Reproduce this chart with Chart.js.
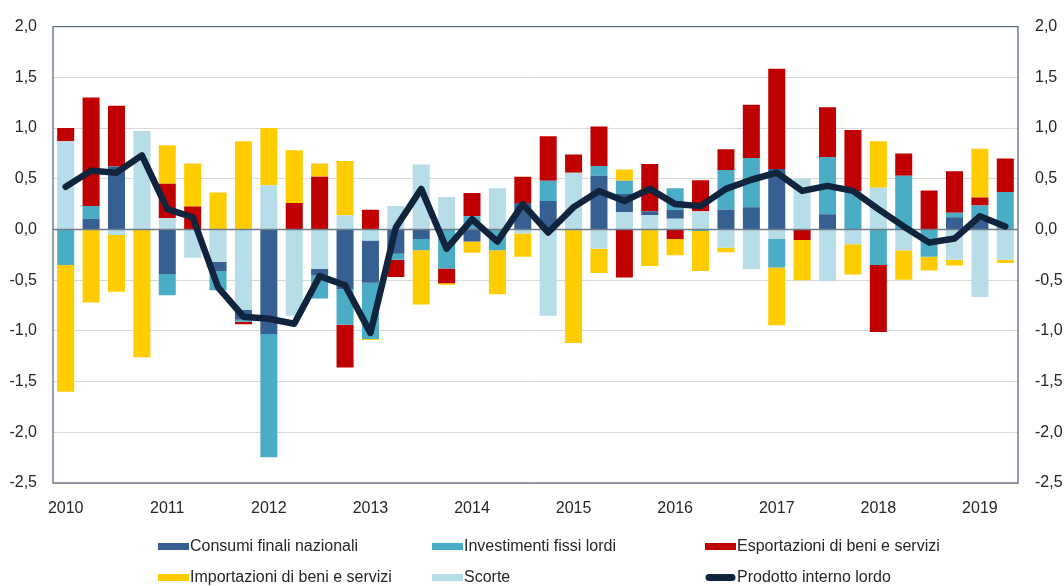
<!DOCTYPE html>
<html>
<head>
<meta charset="utf-8">
<script src="https://cdn.jsdelivr.net/npm/chart.js@4.4.1/dist/chart.umd.min.js"></script>
<style>
html,body{margin:0;padding:0;background:#ffffff;}
#wrap{width:1064px;height:586px;}
</style>
</head>
<body>
<div id="wrap"><canvas id="c" width="1064" height="586"></canvas></div>
<script>
// ---- Data (contributi alla crescita del PIL, punti percentuali) ----
const quarters = [
  '2010T1','2010T2','2010T3','2010T4','2011T1','2011T2','2011T3','2011T4',
  '2012T1','2012T2','2012T3','2012T4','2013T1','2013T2','2013T3','2013T4',
  '2014T1','2014T2','2014T3','2014T4','2015T1','2015T2','2015T3','2015T4',
  '2016T1','2016T2','2016T3','2016T4','2017T1','2017T2','2017T3','2017T4',
  '2018T1','2018T2','2018T3','2018T4','2019T1','2019T2'
];
const scorte = [0.87, 0, -0.055, 0.97, 0.11, -0.28, -0.32, -0.795, 0.435, -0.85, -0.39, 0.14, -0.11, 0.23, 0.64, 0.32, 0, 0.405, -0.04, -0.85, 0.56, -0.19, 0.17, 0.14, 0.105, 0.18, -0.18, -0.39, -0.095, 0.5, -0.51, -0.145, 0.41, -0.205, 0, -0.3, -0.665, -0.3];
const consumi = [0, 0.105, 0.62, 0, -0.44, 0, -0.09, -0.095, -1.03, 0, -0.065, -0.59, -0.415, -0.24, -0.095, 0, -0.12, 0, 0.26, 0.28, 0, 0.53, 0.18, 0.04, 0.09, 0, 0.195, 0.22, 0.595, 0, 0.15, 0, 0, 0, 0, 0.12, 0.09, 0];
const investimenti = [-0.35, 0.125, 0, 0, -0.21, 0, -0.19, -0.02, -1.215, 0, -0.225, -0.35, -0.555, -0.06, -0.11, -0.385, 0.13, -0.205, 0, 0.2, 0, 0.095, 0.13, 0, 0.21, -0.015, 0.39, 0.485, -0.28, 0, 0.565, 0.38, -0.35, 0.53, -0.27, 0.045, 0.145, 0.37];
const esportazioni = [0.13, 1.07, 0.6, 0, 0.34, 0.225, 0, -0.025, 0, 0.26, 0.52, -0.42, 0.195, -0.17, 0, -0.145, 0.23, 0, 0.26, 0.44, 0.18, 0.39, -0.475, 0.465, -0.095, 0.305, 0.205, 0.525, 0.99, -0.105, 0.49, 0.6, -0.66, 0.22, 0.385, 0.41, 0.08, 0.33];
const importazioni = [-1.25, -0.72, -0.56, -1.26, 0.38, 0.425, 0.365, 0.87, 0.565, 0.52, 0.13, 0.535, -0.01, 0, -0.535, -0.015, -0.11, -0.435, -0.23, 0, -1.12, -0.24, 0.11, -0.36, -0.16, -0.395, -0.045, 0, -0.57, -0.395, 0, -0.3, 0.46, -0.29, -0.135, -0.055, 0.48, -0.03];
const pil = [0.42, 0.58, 0.56, 0.73, 0.2, 0.12, -0.57, -0.86, -0.88, -0.93, -0.46, -0.55, -1.02, 0.02, 0.4, -0.19, 0.1, -0.12, 0.25, -0.03, 0.22, 0.38, 0.28, 0.4, 0.25, 0.23, 0.4, 0.49, 0.56, 0.38, 0.43, 0.38, 0.2, 0.03, -0.13, -0.09, 0.13, 0.03];
const yTicks = [2.0, 1.5, 1.0, 0.5, 0.0, -0.5, -1.0, -1.5, -2.0, -2.5];
const legendOrder = ['Consumi finali nazionali', 'Investimenti fissi lordi', 'Esportazioni di beni e servizi', 'Importazioni di beni e servizi', 'Scorte', 'Prodotto interno lordo'];

const FONT = "'Liberation Sans', Arial, sans-serif";
const TEXT = '#262626';

const fmt = v => Number(v).toFixed(1).replace('.', ',');

const extras = {
  id: 'extras',
  beforeDatasetsDraw(chart) {
    const {ctx, chartArea: a} = chart;
    ctx.save();
    ctx.strokeStyle = '#5b6b80';
    ctx.lineWidth = 1.3;
    ctx.strokeRect(a.left, a.top, a.right - a.left, a.bottom - a.top);
    ctx.restore();
  },
  beforeDatasetDraw(chart, args) {
    const ds = chart.data.datasets[args.index];
    if (ds.type !== 'line') return;
    const {ctx, chartArea: a} = chart;
    const y = chart.scales.y.getPixelForValue(0);
    ctx.save();
    ctx.strokeStyle = '#6f7b8a';
    ctx.lineWidth = 1.6;
    ctx.beginPath();
    ctx.moveTo(a.left, y);
    ctx.lineTo(a.right, y);
    ctx.stroke();
    ctx.restore();
  },
  afterDraw(chart) {
    const ctx = chart.ctx;
    const cols = [158, 432, 705];
    const rows = [546.5, 577.5];
    ctx.save();
    ctx.font = '16px ' + FONT;
    ctx.textBaseline = 'middle';
    ctx.textAlign = 'left';
    legendOrder.forEach((name, k) => {
      const ds = chart.data.datasets.find(d => d.label === name);
      const x = cols[k % 3], y = rows[Math.floor(k / 3)];
      if (ds.type === 'line') {
        ctx.strokeStyle = ds.borderColor;
        ctx.lineWidth = 7;
        ctx.lineCap = 'round';
        ctx.beginPath();
        ctx.moveTo(x + 4, y);
        ctx.lineTo(x + 27, y);
        ctx.stroke();
      } else {
        ctx.fillStyle = ds.backgroundColor;
        ctx.fillRect(x, y - 3.5, 31, 7);
      }
      ctx.fillStyle = TEXT;
      ctx.fillText(name, x + 32, y + 0.5);
    });
    ctx.restore();
  }
};

const barDs = (label, data, color) => ({
  type: 'bar', label, data, backgroundColor: color, borderWidth: 0,
  barPercentage: 0.67, categoryPercentage: 1.0, stack: 'contrib'
});

new Chart(document.getElementById('c'), {
  type: 'bar',
  data: {
    labels: quarters,
    datasets: [
      barDs('Scorte', scorte, '#B7DEE8'),
      barDs('Consumi finali nazionali', consumi, '#366092'),
      barDs('Investimenti fissi lordi', investimenti, '#4BACC6'),
      barDs('Esportazioni di beni e servizi', esportazioni, '#C00000'),
      barDs('Importazioni di beni e servizi', importazioni, '#FFCC00'),
      {
        type: 'line', label: 'Prodotto interno lordo', data: pil,
        borderColor: '#10243E', backgroundColor: '#10243E', borderWidth: 6.5,
        pointRadius: 0, pointHoverRadius: 0, tension: 0, fill: false,
        borderJoinStyle: 'round', borderCapStyle: 'round',
        stack: 'pil', order: -1
      }
    ]
  },
  options: {
    responsive: false,
    animation: false,
    devicePixelRatio: 1,
    layout: { padding: { top: 18, left: 0, right: 0, bottom: 0 } },
    plugins: { legend: { display: false }, tooltip: { enabled: false } },
    scales: {
      x: {
        stacked: true,
        offset: true,
        grid: { display: false, drawTicks: false },
        border: { display: false },
        ticks: {
          autoSkip: false, maxRotation: 0, minRotation: 0, padding: 16,
          color: TEXT, font: { family: FONT, size: 16 },
          callback: function(v, i) {
            const q = quarters[i];
            return q.endsWith('T1') ? q.slice(0, 4) : '';
          }
        },
        afterFit(s) { s.height = 103; }
      },
      y: {
        stacked: true,
        position: 'left',
        min: -2.5, max: 2.0,
        afterBuildTicks(s) { s.ticks = yTicks.map(v => ({ value: v })); },
        grid: { color: '#d9d9d9', lineWidth: 1, drawTicks: false },
        border: { display: false },
        ticks: { padding: 16, color: TEXT, font: { family: FONT, size: 16 }, callback: v => fmt(v) },
        afterFit(s) { s.width = 53; }
      },
      y2: {
        position: 'right',
        min: -2.5, max: 2.0,
        afterBuildTicks(s) { s.ticks = yTicks.map(v => ({ value: v })); },
        grid: { display: false, drawTicks: false },
        border: { display: false },
        ticks: { padding: 17, color: TEXT, font: { family: FONT, size: 16 }, callback: v => fmt(v) },
        afterFit(s) { s.width = 46; }
      }
    }
  },
  plugins: [extras]
});
</script>
</body>
</html>
